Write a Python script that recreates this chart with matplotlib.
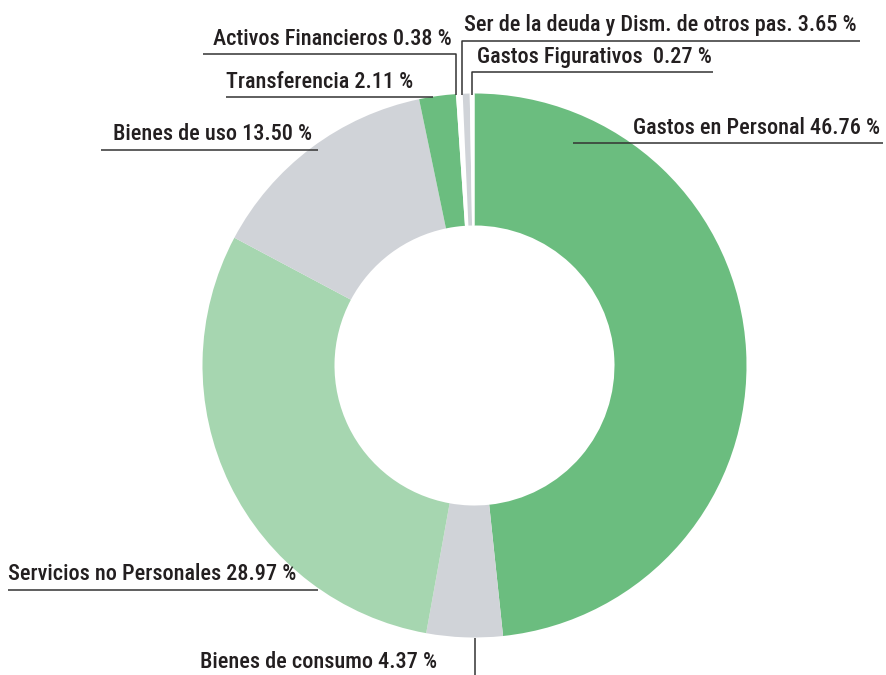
import matplotlib.pyplot as plt
from matplotlib import font_manager

# data (wedge sizes as drawn, label text as printed)
categories = ['Gastos en Personal', 'Bienes de consumo', 'Servicios no Personales',
              'Bienes de uso', 'Transferencia', 'Activos Financieros',
              'Ser de la deuda y Dism. de otros pas.', 'Gastos Figurativos ']
label_pct = ['46.76', '4.37', '28.97', '13.50', '2.11', '0.38', '3.65', '0.27']
wedge_sizes = [46.76, 4.37, 28.97, 13.50, 2.11, 0.38, 0.40, 0.27]
colors = ['#6bbd7f', '#d0d3d8', '#a6d6b0', '#d0d3d8', '#6bbd7f', '#ffffff', '#d0d3d8', '#ffffff']

# pick a condensed face if one is installed
names = {f.name for f in font_manager.fontManager.ttflist}
condensed = ['Liberation Sans Narrow', 'Roboto Condensed', 'Open Sans Condensed',
             'Noto Sans Condensed', 'DejaVu Sans Condensed', 'Noto Sans Display']
chosen = next((n for n in condensed if n in names), None)
if chosen:
    plt.rcParams['font.family'] = [chosen, 'DejaVu Sans']
    fsize = 16
else:
    plt.rcParams['font.family'] = ['Liberation Sans', 'DejaVu Sans']
    fsize = 13.5

fig = plt.figure(figsize=(8.86, 6.75), dpi=100)
ax = fig.add_axes([0, 0, 1, 1])

H = 675
cx, cy, r_out, r_in = 474.5, H - 365.5, 272, 140
ax.pie(wedge_sizes, colors=colors, startangle=90, counterclock=False,
       center=(cx, cy), radius=r_out, frame=True,
       wedgeprops=dict(width=r_out - r_in, linewidth=0))
ax.set_xlim(0, 886)
ax.set_ylim(0, H)
ax.set_aspect('equal')
ax.axis('off')

txt = dict(fontsize=fsize, color='#231f20', fontweight='medium')
line = dict(color='#333333', lw=1.1, solid_capstyle='butt')


def lab(i):
    return f'{categories[i]} {label_pct[i]} %'


def leader(xs, ys):
    ax.plot(xs, [H - y for y in ys], **line)


def put(x, y, s, ha):
    ax.text(x, H - y, s, ha=ha, va='bottom', **txt)


# Gastos en Personal
leader([573, 883], [143, 143])
put(880, 139, lab(0), 'right')
# Bienes de consumo
leader([475, 475], [638, 675])
put(437, 673, lab(1), 'right')
# Servicios no Personales
leader([8, 318], [590, 590])
put(8, 585, lab(2), 'left')
# Bienes de uso
leader([101, 318], [150, 150])
put(113, 145, lab(3), 'left')
# Transferencia
leader([226, 433], [97, 97])
put(226, 93, lab(4), 'left')
# Activos Financieros
leader([203, 456, 456], [54, 54, 95])
put(452, 50, lab(5), 'right')
# Ser de la deuda
leader([462.5, 462.5, 860], [95, 41, 41])
put(857, 36, lab(6), 'right')
# Gastos Figurativos
leader([472, 472, 713], [95, 72, 72])
put(712, 68, lab(7), 'right')

fig.savefig('out.png', dpi=100)
